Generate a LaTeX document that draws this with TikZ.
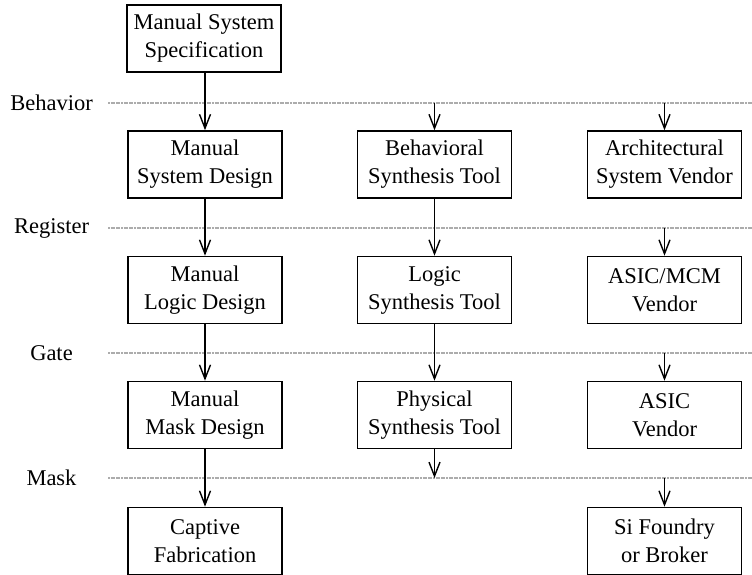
\documentclass[tikz,border=0pt]{standalone}
\usepackage{fontspec}
\setmainfont{Liberation Serif}
\usetikzlibrary{arrows.meta}

\begin{document}
\begin{tikzpicture}[x=1pt,y=-1pt,
        box/.style={draw,line width=1.6pt,minimum width=154pt,minimum height=67pt,
            align=center,inner sep=0pt,font=\fontsize{22.5}{28}\selectfont},
        level/.style={font=\fontsize{22.5}{28}\selectfont},
        flow/.style={line width=1.5pt,-{Straight Barb[length=14pt,width=11pt,line width=1.4pt]}},
        sep/.style={gray!65,line width=1.1pt,dash pattern=on 2pt off 0.6pt}]
        \useasboundingbox (0,0) rectangle (752,574);
        % abstraction levels
        \foreach \y/\name/\txt in {103/beh/Behavior,228/reg/Register,353/gate/Gate,478/mask/Mask}{
            \node[level] (l\name) at (51.5,\y) {\txt};
            \coordinate (s\name) at (108,\y);
            \coordinate (e\name) at (752,\y);
            \draw[sep] (s\name) -- (e\name);
        }
        % manual flow
        \node[box] (spec) at (204,38.5) {Manual System\\Specification};
        \node[box] (msys) at (205,164.5) {Manual\\System Design};
        \node[box] (mlog) at (205,290) {Manual\\Logic Design};
        \node[box] (mmask) at (205,415) {Manual\\Mask Design};
        \node[box] (fab) at (205,541) {Captive\\Fabrication};
        % synthesis tools
        \node[box] (bst) at (434.5,164.5) {Behavioral\\Synthesis Tool};
        \node[box] (lst) at (434.5,290) {Logic\\Synthesis Tool};
        \node[box] (pst) at (434.5,415) {Physical\\Synthesis Tool};
        % vendors
        \node[box] (arch) at (664.5,164.5) {Architectural\\System Vendor};
        \node[box] (mcm) at (664.5,290) {ASIC/MCM\\Vendor};
        \node[box] (asic) at (664.5,415) {ASIC\\Vendor};
        \node[box] (si) at (664.5,541) {Si Foundry\\or Broker};

        \coordinate (b2) at (434.5,103);
        \coordinate (m2) at (434.5,478);
        \coordinate (b3) at (664.5,103);
        \coordinate (r3) at (664.5,228);
        \coordinate (g3) at (664.5,353);
        \coordinate (m3) at (664.5,478);

        \draw[flow] (spec.south -| msys) -- (msys);
        \draw[flow] (msys) -- (mlog);
        \draw[flow] (mlog) -- (mmask);
        \draw[flow] (mmask) -- (fab);
        \draw[flow] (b2) -- (bst);
        \draw[flow] (bst) -- (lst);
        \draw[flow] (lst) -- (pst);
        \draw[flow] (pst) -- (m2);
        \draw[flow] (b3) -- (arch);
        \draw[flow] (r3) -- (mcm);
        \draw[flow] (g3) -- (asic);
        \draw[flow] (m3) -- (si);
    \end{tikzpicture}
\end{document}
